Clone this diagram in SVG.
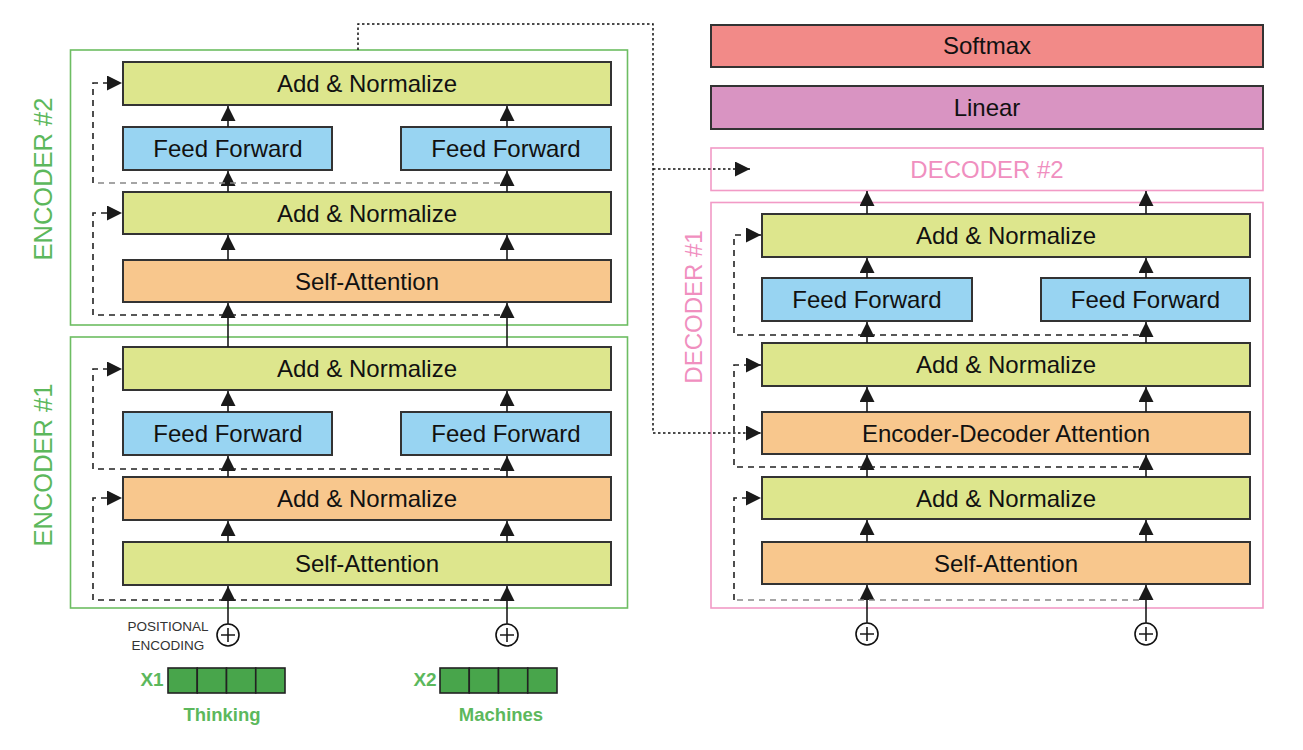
<svg xmlns="http://www.w3.org/2000/svg" width="1303" height="750" viewBox="0 0 1303 750">
<defs>
<marker id="ah" viewBox="0 0 14 14" refX="14" refY="7" markerWidth="15" markerHeight="15" markerUnits="userSpaceOnUse" orient="auto">
<path d="M0,0 L14,7 L0,14 Z" fill="#1a1a1a"/>
</marker>
<style>
.box{stroke:#333;stroke-width:2}
.g{fill:#dde68d}
.b{fill:#98d4f2}
.o{fill:#f8c78d}
.t{font-family:"Liberation Sans",Arial,sans-serif;font-size:24px;fill:#111;text-anchor:middle}
.enc{fill:none;stroke:#6dbd62;stroke-width:1.6}
.dec{fill:none;stroke:#f29ac6;stroke-width:1.6}
.lblg{font-family:"Liberation Sans",Arial,sans-serif;font-size:25.5px;fill:#5cb85c;text-anchor:middle}
.lblp{font-family:"Liberation Sans",Arial,sans-serif;font-size:24px;fill:#f08fbf;text-anchor:middle}
.up{stroke:#1a1a1a;stroke-width:1.6;fill:none}
.dash{stroke:#222;stroke-width:1.6;fill:none;stroke-dasharray:6,5}
.dashg{stroke:#888;stroke-width:1.6;fill:none;stroke-dasharray:6,5}
.dot{stroke:#111;stroke-width:1.5;fill:none;stroke-dasharray:2.5,2.5}
.plus{fill:#fff;stroke:#111;stroke-width:1.6}
.tok{fill:#48a54b;stroke:#222;stroke-width:1.6}
.tokl{font-family:"Liberation Sans",Arial,sans-serif;font-weight:bold;fill:#5cb85c;text-anchor:middle}
.pe{font-family:"Liberation Sans",Arial,sans-serif;font-size:13.5px;fill:#333;text-anchor:middle}
</style>
</defs>

<!-- Encoder #2 -->
<g id="encoder2">
<rect class="enc" x="70.5" y="50" width="557" height="275"/>
<text class="lblg" transform="translate(52,179) rotate(-90)">ENCODER #2</text>
</g>
<g id="e2-addnorm2"><rect class="box g" x="123" y="62" width="488" height="43"/><text class="t" x="367" y="92">Add &amp; Normalize</text></g>
<g id="e2-ff1"><rect class="box b" x="123" y="127" width="209" height="43"/><text class="t" x="228" y="157">Feed Forward</text></g>
<g id="e2-ff2"><rect class="box b" x="401" y="127" width="210" height="43"/><text class="t" x="506" y="157">Feed Forward</text></g>
<g id="e2-addnorm1"><rect class="box g" x="123" y="192" width="488" height="42"/><text class="t" x="367" y="221.5">Add &amp; Normalize</text></g>
<g id="e2-selfattn"><rect class="box o" x="123" y="260" width="488" height="42"/><text class="t" x="367" y="289.5">Self-Attention</text></g>

<!-- Encoder #1 -->
<g id="encoder1">
<rect class="enc" x="70.5" y="337" width="557" height="271"/>
<text class="lblg" transform="translate(52,465) rotate(-90)">ENCODER #1</text>
</g>
<g id="e1-addnorm2"><rect class="box g" x="123" y="347" width="488" height="43"/><text class="t" x="367" y="377">Add &amp; Normalize</text></g>
<g id="e1-ff1"><rect class="box b" x="123" y="412" width="209" height="43"/><text class="t" x="228" y="442">Feed Forward</text></g>
<g id="e1-ff2"><rect class="box b" x="401" y="412" width="210" height="43"/><text class="t" x="506" y="442">Feed Forward</text></g>
<g id="e1-addnorm1"><rect class="box o" x="123" y="477" width="488" height="43"/><text class="t" x="367" y="507">Add &amp; Normalize</text></g>
<g id="e1-selfattn"><rect class="box g" x="123" y="542" width="488" height="43"/><text class="t" x="367" y="572">Self-Attention</text></g>

<!-- Inputs -->
<g id="pos1"><circle class="plus" cx="228" cy="635" r="11"/><path class="up" d="M221,635 H235 M228,628 V642"/></g>
<g id="pos2"><circle class="plus" cx="507" cy="635" r="11"/><path class="up" d="M500,635 H514 M507,628 V642"/></g>
<g id="pe-label"><text class="pe" x="168" y="631">POSITIONAL</text><text class="pe" x="168" y="650">ENCODING</text></g>
<g id="x1">
<text class="tokl" x="152" y="686" font-size="19">X1</text>
<rect class="tok" x="168" y="668" width="29.25" height="25"/>
<rect class="tok" x="197.25" y="668" width="29.25" height="25"/>
<rect class="tok" x="226.5" y="668" width="29.25" height="25"/>
<rect class="tok" x="255.75" y="668" width="29.25" height="25"/>
<text class="tokl" x="222" y="721" font-size="18.5">Thinking</text>
</g>
<g id="x2">
<text class="tokl" x="425" y="686" font-size="19">X2</text>
<rect class="tok" x="440" y="668" width="29.25" height="25"/>
<rect class="tok" x="469.25" y="668" width="29.25" height="25"/>
<rect class="tok" x="498.5" y="668" width="29.25" height="25"/>
<rect class="tok" x="527.75" y="668" width="29.25" height="25"/>
<text class="tokl" x="501" y="721" font-size="18.5">Machines</text>
</g>

<!-- Decoder side -->
<g id="softmax"><rect class="box" fill="#f28a88" x="711" y="25" width="552" height="42"/><text class="t" x="987" y="54">Softmax</text></g>
<g id="linear"><rect class="box" fill="#d994c2" x="711" y="86" width="552" height="43"/><text class="t" x="987" y="115.5">Linear</text></g>
<g id="decoder2"><rect class="dec" x="711" y="148" width="552" height="42.5"/><text class="lblp" x="987" y="178">DECODER #2</text></g>
<g id="decoder1">
<rect class="dec" x="711" y="202.5" width="552" height="405.5"/>
<text class="lblp" transform="translate(702,307) rotate(-90)">DECODER #1</text>
</g>
<g id="d1-addnorm3"><rect class="box g" x="762" y="214" width="488" height="43"/><text class="t" x="1006" y="244">Add &amp; Normalize</text></g>
<g id="d1-ff1"><rect class="box b" x="762" y="278" width="210" height="43"/><text class="t" x="867" y="308">Feed Forward</text></g>
<g id="d1-ff2"><rect class="box b" x="1041" y="278" width="209" height="43"/><text class="t" x="1145.5" y="308">Feed Forward</text></g>
<g id="d1-addnorm2"><rect class="box g" x="762" y="343" width="488" height="43"/><text class="t" x="1006" y="373">Add &amp; Normalize</text></g>
<g id="d1-encdec"><rect class="box o" x="762" y="412" width="488" height="42"/><text class="t" x="1006" y="441.5">Encoder-Decoder Attention</text></g>
<g id="d1-addnorm1"><rect class="box g" x="762" y="477" width="488" height="42"/><text class="t" x="1006" y="506.5">Add &amp; Normalize</text></g>
<g id="d1-selfattn"><rect class="box o" x="762" y="542" width="488" height="42"/><text class="t" x="1006" y="571.5">Self-Attention</text></g>
<g id="dpos1"><circle class="plus" cx="867" cy="634" r="11"/><path class="up" d="M860,634 H874 M867,627 V641"/></g>
<g id="dpos2"><circle class="plus" cx="1146" cy="634" r="11"/><path class="up" d="M1139,634 H1153 M1146,627 V641"/></g>

<!-- Connectors -->
<g id="connectors">
<path class="up" marker-end="url(#ah)" d="M228,624 V586"/>
<path class="up" marker-end="url(#ah)" d="M507,624 V586"/>
<path class="up" marker-end="url(#ah)" d="M228,542 V521"/>
<path class="up" marker-end="url(#ah)" d="M507,542 V521"/>
<path class="up" marker-end="url(#ah)" d="M228,477 V456"/>
<path class="up" marker-end="url(#ah)" d="M507,477 V456"/>
<path class="up" marker-end="url(#ah)" d="M228,412 V391"/>
<path class="up" marker-end="url(#ah)" d="M507,412 V391"/>
<path class="up" marker-end="url(#ah)" d="M228,347 V303"/>
<path class="up" marker-end="url(#ah)" d="M507,347 V303"/>
<path class="up" marker-end="url(#ah)" d="M228,260 V235"/>
<path class="up" marker-end="url(#ah)" d="M507,260 V235"/>
<path class="up" marker-end="url(#ah)" d="M228,192 V171"/>
<path class="up" marker-end="url(#ah)" d="M507,192 V171"/>
<path class="up" marker-end="url(#ah)" d="M228,127 V106"/>
<path class="up" marker-end="url(#ah)" d="M507,127 V106"/>
<path class="dashg" d="M500,183 H93"/>
<path class="dash" marker-end="url(#ah)" d="M93,183 V83 H122"/>
<path class="dash" marker-end="url(#ah)" d="M500,315 H93 V213 H122"/>
<path class="dash" marker-end="url(#ah)" d="M500,469 H93 V369 H122"/>
<path class="dash" marker-end="url(#ah)" d="M500,600 H93 V498 H122"/>
<path class="up" marker-end="url(#ah)" d="M867,623 V585"/>
<path class="up" marker-end="url(#ah)" d="M1146,623 V585"/>
<path class="up" marker-end="url(#ah)" d="M867,542 V520"/>
<path class="up" marker-end="url(#ah)" d="M1146,542 V520"/>
<path class="up" marker-end="url(#ah)" d="M867,477 V455"/>
<path class="up" marker-end="url(#ah)" d="M1146,477 V455"/>
<path class="up" marker-end="url(#ah)" d="M867,412 V387"/>
<path class="up" marker-end="url(#ah)" d="M1146,412 V387"/>
<path class="up" marker-end="url(#ah)" d="M867,343 V322"/>
<path class="up" marker-end="url(#ah)" d="M1146,343 V322"/>
<path class="up" marker-end="url(#ah)" d="M867,278 V258"/>
<path class="up" marker-end="url(#ah)" d="M1146,278 V258"/>
<path class="up" marker-end="url(#ah)" d="M867,214 V191"/>
<path class="up" marker-end="url(#ah)" d="M1146,214 V191"/>
<path class="dash" marker-end="url(#ah)" d="M1139,335 H734 V235 H761"/>
<path class="dash" marker-end="url(#ah)" d="M1139,467 H734 V365 H761"/>
<path class="dashg" d="M1139,600 H734"/>
<path class="dash" marker-end="url(#ah)" d="M734,600 V498 H761"/>
<path class="dot" d="M358,50 V24 H653 V433"/>
<path class="dot" marker-end="url(#ah)" d="M653,169 H750"/>
<path class="dot" marker-end="url(#ah)" d="M653,433 H761"/>
</g>
</svg>
